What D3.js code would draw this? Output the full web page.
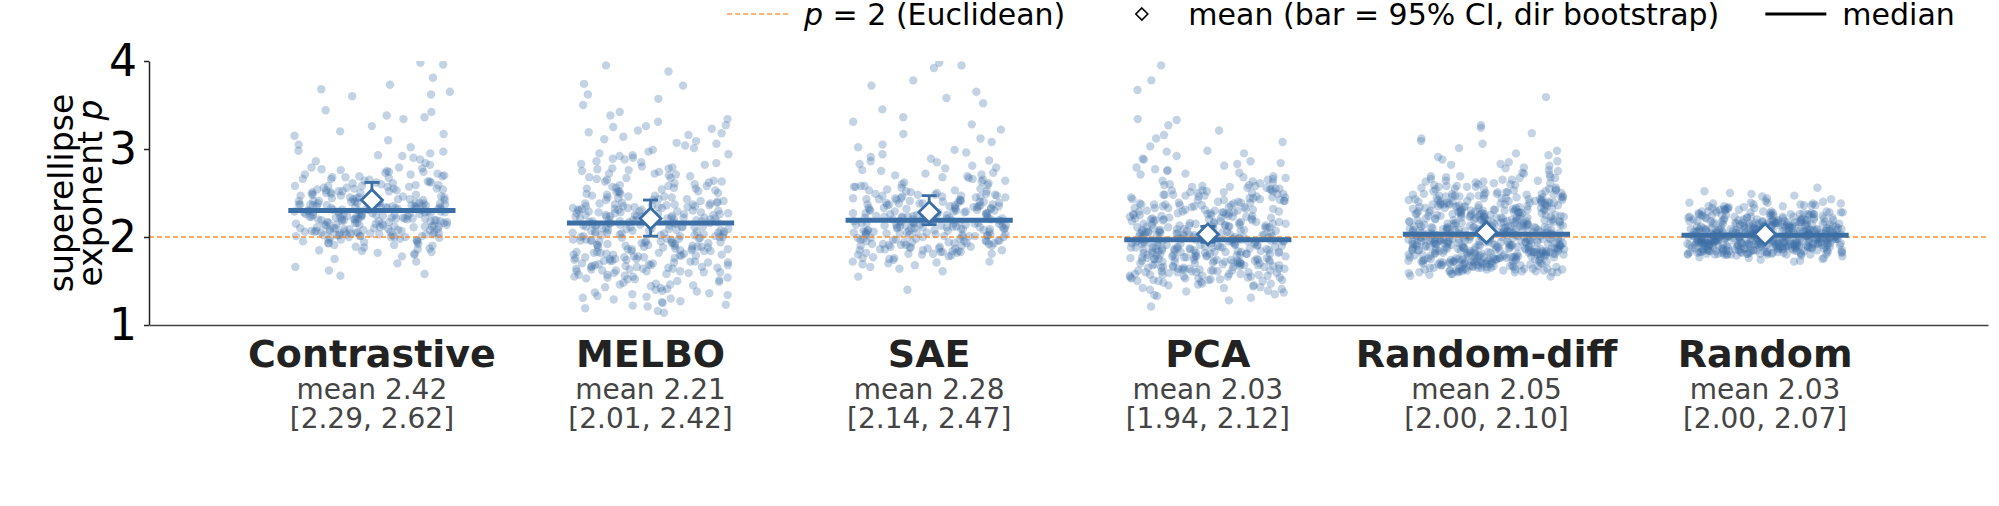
<!DOCTYPE html>
<html><head><meta charset="utf-8">
<script src="https://cdn.jsdelivr.net/npm/d3@7"></script>
<style>body{margin:0;background:#fff}svg{display:block}text{font-family:"DejaVu Sans",sans-serif}</style>
</head><body>
<svg id="c" width="1999" height="506"></svg>
<script>
// ---------- data ----------
const categories = ["Contrastive","MELBO","SAE","PCA","Random-diff","Random"];
const means  = [2.42,2.21,2.28,2.03,2.05,2.03];
const ciLow  = [2.29,2.01,2.14,1.94,2.00,2.00];
const ciHigh = [2.62,2.42,2.47,2.12,2.10,2.07];
const medians = [2.30,2.16,2.19,1.97,2.03,2.02];
const yTicks = [1,2,3,4];
const euclidean = 2;

const valsContrastive = [3.98,3.96,3.81,3.73,3.68,3.65,3.62,3.60,3.44,3.42,3.38,3.36,3.34,3.26,3.20,3.17,3.10,3.02,
2.98,2.97,2.95,2.93,2.90,2.86,2.84,2.82,
2.79,2.78,2.77,2.75,2.74,2.73,2.72,2.71,2.70,2.69,2.68,2.67,2.66,2.65,2.64,2.63,2.62,2.62,2.61,2.60,
2.59,2.58,2.58,2.57,2.56,2.55,2.55,2.54,2.53,2.52,2.52,2.51,2.50,2.49,2.48,2.48,2.47,2.46,2.45,2.45,2.44,2.43,2.43,2.42,2.41,2.41,2.40,2.40,
2.39,2.39,2.38,2.38,2.37,2.37,2.36,2.36,2.35,2.35,2.34,2.34,2.33,2.33,2.32,2.32,2.31,2.31,2.30,2.30,2.29,2.29,2.28,2.28,2.27,2.27,2.26,2.26,2.25,2.25,2.24,2.24,2.23,2.23,2.22,2.22,2.21,2.21,2.20,2.20,2.20,2.21,
2.19,2.19,2.18,2.18,2.17,2.16,2.16,2.15,2.14,2.14,2.13,2.12,2.12,2.11,2.10,2.10,2.09,2.08,2.08,2.07,2.06,2.06,2.05,2.04,2.04,2.03,2.02,2.02,2.01,2.00,2.00,2.01,2.03,2.05,2.07,2.09,
1.99,1.98,1.97,1.96,1.95,1.94,1.93,1.92,1.91,1.90,1.89,1.88,1.87,1.86,1.85,1.84,1.83,1.82,1.81,1.80,
1.78,1.75,1.72,1.70,1.66,1.62,1.58,1.56,
2.00,2.01,2.02,2.03,2.04,2.05,2.06,2.07,2.08,2.09,2.00,2.01,2.02,2.03,2.04,2.05,2.06,2.07,2.08,2.09,
2.10,2.11,2.12,2.13,2.14,2.15,2.16,2.17,2.18,2.19,2.10,2.11,2.12,2.13,2.14,2.15,2.16,2.17,2.18,2.19,
2.20,2.21,2.22,2.23,2.24,2.25,2.26,2.27,2.28,2.29,2.20,2.21,2.22,2.23,2.24,2.25,2.26,2.27,2.28,2.29,
2.30,2.31,2.32,2.33,2.34,2.35,2.36,2.37,2.38,2.39,2.30,2.31,2.32,2.33,2.34,2.35,2.36,2.37,2.38,2.39,
2.40,2.41,2.42,2.43,2.44,2.45,2.46,2.47,2.48,2.49,2.50,2.51,2.52,2.53,2.54,2.55,2.56,2.57,2.58,2.59,
2.61,2.63,2.66,2.68,2.69,2.71,2.74,2.76,2.79,1.91,1.93,1.94,1.96,1.97,1.99,3.15,3.05,2.88,2.92];

const valsMELBO = [1.14,1.16,1.19,1.21,1.23,1.25,1.27,1.29,1.30,1.32,1.33,1.35,1.36,1.38,1.39,
1.40,1.41,1.42,1.44,1.45,1.46,1.47,1.48,1.49,1.50,1.51,1.52,1.53,1.54,1.55,1.56,1.57,1.58,1.59,1.55,
1.60,1.61,1.62,1.63,1.64,1.65,1.66,1.67,1.68,1.69,1.61,1.64,1.66,1.68,
1.70,1.71,1.72,1.73,1.74,1.75,1.76,1.77,1.78,1.79,1.71,1.73,1.75,1.77,1.79,
1.80,1.81,1.82,1.83,1.84,1.85,1.86,1.87,1.88,1.89,1.80,1.82,1.84,1.86,1.88,1.89,
1.90,1.91,1.92,1.93,1.94,1.95,1.96,1.97,1.98,1.99,1.90,1.91,1.93,1.94,1.95,1.96,1.97,1.98,
2.00,2.01,2.02,2.03,2.04,2.05,2.06,2.07,2.08,2.09,2.00,2.01,2.02,2.03,2.04,2.05,2.06,2.07,2.08,2.09,
2.10,2.11,2.12,2.13,2.14,2.15,2.16,2.17,2.18,2.19,2.10,2.11,2.12,2.13,2.14,2.15,2.16,2.17,2.18,2.19,2.15,
2.20,2.21,2.22,2.23,2.24,2.25,2.26,2.27,2.28,2.29,2.20,2.21,2.22,2.23,2.24,2.25,2.26,2.27,2.28,2.29,2.25,
2.30,2.31,2.32,2.33,2.34,2.35,2.36,2.37,2.38,2.39,2.30,2.31,2.33,2.34,2.35,2.36,2.37,2.38,
2.40,2.41,2.42,2.43,2.44,2.45,2.46,2.47,2.48,2.49,2.41,2.43,2.45,2.47,2.49,
2.50,2.51,2.52,2.53,2.54,2.55,2.56,2.57,2.58,2.59,2.52,2.56,
2.60,2.61,2.62,2.63,2.64,2.65,2.66,2.67,2.68,2.69,
2.70,2.71,2.72,2.74,2.75,2.76,2.77,2.78,2.79,2.80,2.82,2.83,2.85,2.86,2.88,2.89,
2.90,2.92,2.94,2.95,2.97,2.99,3.01,3.04,3.07,3.09,3.11,3.14,3.16,3.19,3.21,3.23,3.25,3.27,
3.31,3.34,3.38,3.42,3.50,3.57,3.62,3.72,3.74,3.88,3.95,
1.22,1.26,1.31,1.34,1.37,1.43,1.46,1.52,1.54,1.57,1.59,
1.60,1.61,1.62,1.63,1.64,1.65,1.66,1.67,1.68,1.69,1.70,1.71,1.72,1.73,1.74,1.75,1.76,1.77,1.78,1.79,
1.80,1.81,1.82,1.83,1.84,1.85,1.86,1.87,1.88,1.89,1.90,1.91,1.92,1.93,1.94,1.95,1.96,1.97,1.98,1.99,
2.00,2.01,2.02,2.03,2.04,2.05,2.06,2.07,2.08,2.09,2.10,2.11,2.12,2.13,2.14,2.15,2.16,2.17,2.18,2.19,
2.20,2.21,2.22,2.23,2.24,2.25,2.26,2.27,2.28,2.29,2.30,2.31,2.32,2.33,2.34,2.35,2.36,2.37,2.38,2.39,
2.42,2.46,2.51,2.55,2.58,2.63,2.67,2.72,2.78,2.84,2.93,3.06,3.18,3.26];

const valsSAE = [1.40,1.55,1.61,1.64,1.66,1.68,1.69,1.70,1.71,1.72,1.74,1.75,1.76,1.77,1.78,1.79,
1.80,1.81,1.82,1.83,1.84,1.85,1.86,1.87,1.88,1.89,1.81,1.83,1.85,1.87,1.89,
1.90,1.91,1.92,1.93,1.94,1.95,1.96,1.97,1.98,1.99,1.90,1.91,1.92,1.93,1.94,1.95,1.96,1.97,1.98,
2.00,2.01,2.02,2.03,2.04,2.05,2.06,2.07,2.08,2.09,2.00,2.01,2.02,2.03,2.04,2.05,2.06,2.07,2.08,2.09,2.01,2.03,2.05,2.07,2.09,
2.10,2.11,2.12,2.13,2.14,2.15,2.16,2.17,2.18,2.19,2.10,2.11,2.12,2.13,2.14,2.15,2.16,2.17,2.18,2.19,2.10,2.11,2.12,2.13,2.14,2.15,2.16,2.17,2.18,2.19,
2.20,2.21,2.22,2.23,2.24,2.25,2.26,2.27,2.28,2.29,2.20,2.21,2.22,2.23,2.24,2.25,2.26,2.27,2.28,2.29,2.22,2.27,
2.30,2.31,2.32,2.33,2.34,2.35,2.36,2.37,2.38,2.39,2.30,2.31,2.32,2.33,2.34,2.35,2.36,2.37,2.38,2.39,
2.40,2.41,2.42,2.43,2.44,2.45,2.46,2.47,2.48,2.49,2.40,2.42,2.44,2.46,2.47,2.48,
2.50,2.51,2.52,2.53,2.54,2.55,2.56,2.57,2.58,2.59,2.53,2.57,
2.60,2.61,2.62,2.64,2.65,2.66,2.67,2.68,2.69,2.70,2.72,2.73,2.75,2.76,2.78,2.79,
2.81,2.83,2.85,2.87,2.89,2.91,2.94,2.96,2.99,3.02,3.05,3.08,3.12,3.17,3.22,3.28,3.31,3.36,
3.45,3.52,3.58,3.65,3.72,3.78,3.92,3.95,3.98,
1.80,1.81,1.82,1.83,1.84,1.85,1.86,1.87,1.88,1.89,1.90,1.91,1.92,1.93,1.94,1.95,1.96,1.97,1.98,1.99,
2.00,2.01,2.02,2.03,2.04,2.05,2.06,2.07,2.08,2.09,2.10,2.11,2.12,2.13,2.14,2.15,2.16,2.17,2.18,2.19,
2.20,2.21,2.22,2.23,2.24,2.25,2.26,2.27,2.28,2.29,2.30,2.31,2.32,2.33,2.34,2.35,2.36,2.37,2.38,2.39,
2.40,2.41,2.42,2.43,2.44,2.45,2.46,2.47,2.48,2.49,2.52,2.58,2.63,2.71,2.86,1.72,1.76];

const valsPCA = [1.21,1.28,1.31,1.33,1.35,1.37,1.39,1.40,1.41,1.42,1.43,1.44,1.45,1.46,1.47,1.48,1.49,
1.50,1.51,1.52,1.53,1.54,1.55,1.56,1.57,1.58,1.59,1.50,1.51,1.53,1.54,1.55,1.56,1.57,1.58,
1.60,1.61,1.62,1.63,1.64,1.65,1.66,1.67,1.68,1.69,1.60,1.61,1.62,1.63,1.64,1.65,1.66,1.67,1.68,1.69,1.60,1.62,1.64,1.66,1.68,
1.70,1.71,1.72,1.73,1.74,1.75,1.76,1.77,1.78,1.79,1.70,1.71,1.72,1.73,1.74,1.75,1.76,1.77,1.78,1.79,1.70,1.71,1.72,1.73,1.74,1.75,1.76,1.77,1.78,1.79,
1.80,1.81,1.82,1.83,1.84,1.85,1.86,1.87,1.88,1.89,1.80,1.81,1.82,1.83,1.84,1.85,1.86,1.87,1.88,1.89,1.80,1.81,1.82,1.83,1.84,1.85,1.86,1.87,1.88,1.89,1.82,1.87,
1.90,1.91,1.92,1.93,1.94,1.95,1.96,1.97,1.98,1.99,1.90,1.91,1.92,1.93,1.94,1.95,1.96,1.97,1.98,1.99,1.90,1.91,1.92,1.93,1.94,1.95,1.96,1.97,1.98,1.99,1.95,
2.00,2.01,2.02,2.03,2.04,2.05,2.06,2.07,2.08,2.09,2.00,2.01,2.02,2.03,2.04,2.05,2.06,2.07,2.08,2.09,2.00,2.01,2.02,2.03,2.05,2.06,2.07,2.09,
2.10,2.11,2.12,2.13,2.14,2.15,2.16,2.17,2.18,2.19,2.10,2.11,2.12,2.13,2.14,2.15,2.16,2.17,2.18,2.19,2.11,2.13,2.15,2.17,
2.20,2.21,2.22,2.23,2.24,2.25,2.26,2.27,2.28,2.29,2.20,2.21,2.22,2.23,2.24,2.25,2.26,2.27,2.28,2.29,
2.30,2.31,2.32,2.33,2.34,2.35,2.36,2.37,2.38,2.39,2.30,2.31,2.33,2.34,2.36,2.37,2.39,
2.40,2.41,2.42,2.43,2.44,2.45,2.46,2.47,2.48,2.49,2.42,2.45,2.48,
2.50,2.51,2.52,2.53,2.54,2.55,2.56,2.57,2.58,2.59,2.60,2.62,2.63,2.65,2.66,2.68,2.69,
2.71,2.73,2.75,2.77,2.79,2.81,2.84,2.86,2.89,2.92,2.95,2.98,3.03,3.08,3.12,3.16,3.21,3.27,3.33,3.34,
3.67,3.78,3.95,
1.50,1.51,1.52,1.53,1.54,1.55,1.56,1.57,1.58,1.59,1.60,1.61,1.62,1.63,1.64,1.65,1.66,1.67,1.68,1.69,
1.70,1.71,1.72,1.73,1.74,1.75,1.76,1.77,1.78,1.79,1.80,1.81,1.82,1.83,1.84,1.85,1.86,1.87,1.88,1.89,
1.90,1.91,1.92,1.93,1.94,1.95,1.96,1.97,1.98,1.99,2.00,2.01,2.02,2.03,2.04,2.05,2.06,2.07,2.08,2.09,
2.10,2.11,2.12,2.13,2.14,2.15,2.16,2.17,2.18,2.19,2.20,2.21,2.22,2.23,2.24,2.25,2.26,2.27,2.28,2.29,
2.30,2.31,2.32,2.33,2.34,2.35,2.36,2.37,2.38,2.39,2.40,2.41,2.42,2.43,2.44,2.45,2.46,2.47,2.48,2.49,
1.42,1.45,1.47,1.38,1.34,2.50,2.51,2.52,2.53,2.54,2.55,2.56,2.57,2.58,2.59,
2.61,2.64,2.67,2.72,2.76,2.83,2.88,2.97,1.62,1.74,1.83,1.88,1.95,2.05,2.12];

const valsRandomDiff = [1.55,1.57,1.58,1.59,
1.60,1.61,1.62,1.63,1.64,1.65,1.66,1.67,1.68,1.69,1.60,1.61,1.62,1.63,1.64,1.65,1.66,1.67,1.68,1.69,1.60,1.61,1.62,1.63,1.64,1.65,1.66,1.67,1.68,1.69,
1.70,1.71,1.72,1.73,1.74,1.75,1.76,1.77,1.78,1.79,1.70,1.71,1.72,1.73,1.74,1.75,1.76,1.77,1.78,1.79,1.70,1.71,1.72,1.73,1.74,1.75,1.76,1.77,1.78,1.79,1.70,1.71,1.72,1.73,1.74,1.75,1.76,1.77,1.78,1.79,1.70,1.71,1.72,1.73,1.75,1.76,
1.80,1.81,1.82,1.83,1.84,1.85,1.86,1.87,1.88,1.89,1.80,1.81,1.82,1.83,1.84,1.85,1.86,1.87,1.88,1.89,1.80,1.81,1.82,1.83,1.84,1.85,1.86,1.87,1.88,1.89,1.80,1.81,1.82,1.83,1.84,1.85,1.86,1.87,1.88,1.89,1.80,1.81,1.82,1.83,1.84,1.85,1.86,1.87,1.88,1.89,1.82,1.87,
1.90,1.91,1.92,1.93,1.94,1.95,1.96,1.97,1.98,1.99,1.90,1.91,1.92,1.93,1.94,1.95,1.96,1.97,1.98,1.99,1.90,1.91,1.92,1.93,1.94,1.95,1.96,1.97,1.98,1.99,1.90,1.91,1.92,1.93,1.94,1.95,1.96,1.97,1.98,1.99,1.90,1.91,1.92,1.93,1.94,1.95,1.96,1.97,1.98,1.99,1.93,1.97,
2.00,2.01,2.02,2.03,2.04,2.05,2.06,2.07,2.08,2.09,2.00,2.01,2.02,2.03,2.04,2.05,2.06,2.07,2.08,2.09,2.00,2.01,2.02,2.03,2.04,2.05,2.06,2.07,2.08,2.09,2.00,2.01,2.02,2.03,2.04,2.05,2.06,2.07,2.08,2.09,2.01,2.03,2.05,2.08,
2.10,2.11,2.12,2.13,2.14,2.15,2.16,2.17,2.18,2.19,2.10,2.11,2.12,2.13,2.14,2.15,2.16,2.17,2.18,2.19,2.10,2.11,2.12,2.13,2.14,2.15,2.16,2.17,2.18,2.19,2.10,2.11,2.12,2.13,2.14,2.15,2.17,2.19,
2.20,2.21,2.22,2.23,2.24,2.25,2.26,2.27,2.28,2.29,2.20,2.21,2.22,2.23,2.24,2.25,2.26,2.27,2.28,2.29,2.20,2.21,2.22,2.23,2.24,2.25,2.26,2.27,2.28,2.29,2.21,2.24,
2.30,2.31,2.32,2.33,2.34,2.35,2.36,2.37,2.38,2.39,2.30,2.31,2.32,2.33,2.34,2.35,2.36,2.37,2.38,2.39,2.30,2.31,2.33,2.35,2.37,2.39,
2.40,2.41,2.42,2.43,2.44,2.45,2.46,2.47,2.48,2.49,2.40,2.41,2.42,2.44,2.45,2.46,2.47,2.48,2.49,
2.50,2.51,2.52,2.53,2.54,2.55,2.56,2.57,2.58,2.59,2.51,2.54,2.57,
2.60,2.61,2.63,2.64,2.65,2.67,2.68,2.69,2.71,2.73,2.76,2.78,2.79,2.81,2.83,2.85,2.88,2.91,2.95,2.98,
3.01,3.06,3.09,3.12,3.18,3.24,3.27,3.59,
1.60,1.61,1.62,1.63,1.64,1.65,1.66,1.67,1.68,1.69,1.70,1.71,1.72,1.73,1.74,1.75,1.76,1.77,1.78,1.79,
1.80,1.81,1.82,1.83,1.84,1.85,1.86,1.87,1.88,1.89,1.90,1.91,1.92,1.93,1.94,1.95,1.96,1.97,1.98,1.99,
2.00,2.01,2.02,2.03,2.04,2.05,2.06,2.07,2.08,2.09,2.10,2.11,2.12,2.13,2.14,2.15,2.16,2.17,2.18,2.19,
2.20,2.21,2.22,2.23,2.24,2.25,2.26,2.27,2.28,2.29,2.30,2.31,2.32,2.33,2.34,2.35,2.36,2.37,2.38,2.39,
2.40,2.41,2.42,2.43,2.44,2.45,2.46,2.47,2.48,2.49,2.50,2.51,2.52,2.53,2.54,2.55,2.56,2.57,2.58,2.59,
1.60,1.61,1.62,1.63,1.64,1.65,1.66,1.67,1.68,1.69,1.70,1.71,1.72,1.73,1.74,1.75,1.76,1.77,1.78,1.79,
1.80,1.81,1.82,1.83,1.84,1.85,1.86,1.87,1.88,1.89,1.90,1.91,1.92,1.93,1.94,1.95,1.96,1.97,1.98,1.99,
2.00,2.01,2.02,2.03,2.04,2.05,2.06,2.07,2.08,2.09,2.10,2.11,2.12,2.13,2.14,2.15,2.16,2.17,2.18,2.19,
2.20,2.21,2.22,2.23,2.24,2.25,2.26,2.27,2.28,2.29,2.30,2.31,2.32,2.33,2.34,2.35,2.36,2.37,2.38,2.39,
2.40,2.41,2.42,2.43,2.44,2.45,2.46,2.47,2.48,2.49,2.60,2.61,2.62,2.63,2.64,2.65,2.66,2.67,2.68,2.69,
2.72,2.75,2.82,2.86,2.93,1.56,1.58];

const valsRandom = [1.72,1.73,1.74,1.75,1.76,1.76,1.77,1.78,1.79,1.79,
1.80,1.81,1.82,1.83,1.84,1.85,1.86,1.87,1.88,1.89,1.80,1.81,1.82,1.83,1.84,1.85,1.86,1.87,1.88,1.89,1.80,1.81,1.82,1.83,1.84,1.85,1.86,1.87,1.88,1.89,1.80,1.81,1.82,1.83,1.84,1.85,1.86,1.87,1.88,1.89,1.80,1.81,1.82,1.83,1.84,1.85,1.86,1.87,1.88,1.89,1.85,1.89,
1.90,1.91,1.92,1.93,1.94,1.95,1.96,1.97,1.98,1.99,1.90,1.91,1.92,1.93,1.94,1.95,1.96,1.97,1.98,1.99,1.90,1.91,1.92,1.93,1.94,1.95,1.96,1.97,1.98,1.99,1.90,1.91,1.92,1.93,1.94,1.95,1.96,1.97,1.98,1.99,
1.90,1.91,1.92,1.93,1.94,1.95,1.96,1.97,1.98,1.99,1.90,1.91,1.92,1.93,1.94,1.95,1.96,1.97,1.98,1.99,1.90,1.91,1.92,1.93,1.94,1.95,1.96,1.97,1.98,1.99,1.90,1.91,1.92,1.93,1.94,1.95,1.96,1.97,1.98,1.99,
2.00,2.01,2.02,2.03,2.04,2.05,2.06,2.07,2.08,2.09,2.00,2.01,2.02,2.03,2.04,2.05,2.06,2.07,2.08,2.09,2.00,2.01,2.02,2.03,2.04,2.05,2.06,2.07,2.08,2.09,2.00,2.01,2.02,2.03,2.04,2.05,2.06,2.07,2.08,2.09,
2.00,2.01,2.02,2.03,2.04,2.05,2.06,2.07,2.08,2.09,2.00,2.01,2.02,2.03,2.04,2.05,2.06,2.07,2.08,2.09,2.00,2.01,2.02,2.03,2.04,2.05,2.06,2.07,2.08,2.09,2.01,2.02,
2.10,2.11,2.12,2.13,2.14,2.15,2.16,2.17,2.18,2.19,2.10,2.11,2.12,2.13,2.14,2.15,2.16,2.17,2.18,2.19,2.10,2.11,2.12,2.13,2.14,2.15,2.16,2.17,2.18,2.19,2.10,2.11,2.12,2.13,2.14,2.15,2.16,2.17,2.18,2.19,2.10,2.12,2.13,2.14,2.15,2.16,2.17,2.19,
2.20,2.21,2.22,2.23,2.24,2.25,2.26,2.27,2.28,2.29,2.20,2.21,2.22,2.23,2.24,2.25,2.26,2.27,2.28,2.29,2.20,2.21,2.22,2.23,2.24,2.25,2.26,2.27,2.28,2.29,2.22,2.26,
2.30,2.31,2.32,2.33,2.34,2.35,2.36,2.37,2.38,2.39,2.31,2.33,2.35,2.36,2.38,2.39,
2.40,2.41,2.43,2.44,2.46,2.47,2.49,2.50,2.52,2.56,
1.80,1.81,1.82,1.83,1.84,1.85,1.86,1.87,1.88,1.89,1.80,1.81,1.82,1.83,1.84,1.85,1.86,1.87,1.88,1.89,
1.80,1.81,1.82,1.83,1.84,1.85,1.86,1.87,1.88,1.89,1.80,1.81,1.82,1.83,1.84,1.85,1.86,1.87,1.88,1.89,
1.90,1.91,1.92,1.93,1.94,1.95,1.96,1.97,1.98,1.99,1.90,1.91,1.92,1.93,1.94,1.95,1.96,1.97,1.98,1.99,
1.90,1.91,1.92,1.93,1.94,1.95,1.96,1.97,1.98,1.99,1.90,1.91,1.92,1.93,1.94,1.95,1.96,1.97,1.98,1.99,
1.90,1.91,1.92,1.93,1.94,1.95,1.96,1.97,1.98,1.99,
2.00,2.01,2.02,2.03,2.04,2.05,2.06,2.07,2.08,2.09,2.00,2.01,2.02,2.03,2.04,2.05,2.06,2.07,2.08,2.09,
2.00,2.01,2.02,2.03,2.04,2.05,2.06,2.07,2.08,2.09,2.00,2.01,2.02,2.03,2.04,2.05,2.06,2.07,2.08,2.09,
2.00,2.01,2.02,2.03,2.04,2.05,2.06,2.07,2.08,2.09,
2.10,2.11,2.12,2.13,2.14,2.15,2.16,2.17,2.18,2.19,2.10,2.11,2.12,2.13,2.14,2.15,2.16,2.17,2.18,2.19,
2.10,2.11,2.12,2.13,2.14,2.15,2.16,2.17,2.18,2.19,2.20,2.21,2.22,2.23,2.24,2.25,2.26,2.27,2.28,2.29,
2.20,2.21,2.22,2.23,2.24,2.25,2.26,2.27,2.28,2.29,2.30,2.31,2.32,2.33,2.34,2.35,2.36,2.37,2.38,2.39];

const groupValues = [valsContrastive, valsMELBO, valsSAE, valsPCA, valsRandomDiff, valsRandom];

// ---------- layout ----------
const BLUE = "#3a6ea5", ORANGE = "#ff7f0e";
const svg = d3.select("#c");
const x = d3.scaleLinear().domain([-0.8, 5.8]).range([149, 1988]);
const y = d3.scaleLinear().domain([1, 4]).range([325, 61]);
const [x0, x1] = x.range(); const [yb, yt] = y.range();

svg.append("defs").append("clipPath").attr("id", "clip")
  .append("rect").attr("x", x0).attr("y", yt).attr("width", x1 - x0).attr("height", yb - yt);

const plot = svg.append("g").attr("clip-path", "url(#clip)");

// strip points (seeded jitter, as in a strip plot)
const JIT = 0.28;
groupValues.forEach((vals, gi) => {
  const jitter = d3.randomUniform.source(d3.randomLcg(0.123 + gi * 0.171))(-JIT, JIT);
  plot.append("g").selectAll("circle").data(vals).join("circle")
    .attr("cx", () => x(gi + jitter()))
    .attr("cy", d => y(d))
    .attr("r", 4.2)
    .attr("fill", BLUE).attr("fill-opacity", 0.3);
});

// reference line p = 2
plot.append("line")
  .attr("x1", x0).attr("x2", x1).attr("y1", y(euclidean)).attr("y2", y(euclidean))
  .attr("stroke", ORANGE).attr("stroke-opacity", 0.85).attr("stroke-width", 1.7)
  .attr("stroke-dasharray", "5,3");

// medians
plot.append("g").selectAll("line").data(medians).join("line")
  .attr("x1", (d, i) => x(i - 0.3)).attr("x2", (d, i) => x(i + 0.3))
  .attr("y1", d => y(d)).attr("y2", d => y(d))
  .attr("stroke", BLUE).attr("stroke-width", 5);

// CI error bars
const eb = plot.append("g").attr("stroke", BLUE).attr("stroke-width", 2.8);
categories.forEach((c, i) => {
  eb.append("line").attr("x1", x(i)).attr("x2", x(i)).attr("y1", y(ciLow[i])).attr("y2", y(ciHigh[i]));
  [ciLow[i], ciHigh[i]].forEach(v => {
    eb.append("line").attr("x1", x(i) - 7.5).attr("x2", x(i) + 7.5).attr("y1", y(v)).attr("y2", y(v));
  });
});

// mean diamonds
const diamond = r => `M0,${-r}L${r},0L0,${r}L${-r},0Z`;
plot.append("g").selectAll("path").data(means).join("path")
  .attr("d", diamond(10.5))
  .attr("transform", (d, i) => `translate(${x(i)},${y(d)})`)
  .attr("fill", "#fff").attr("stroke", BLUE).attr("stroke-width", 2.8);

// axes
const yAxis = svg.append("g").attr("transform", `translate(${x0},0)`)
  .call(d3.axisLeft(y).tickValues(yTicks).tickFormat(d3.format("d")).tickSize(5).tickSizeOuter(0).tickPadding(7));
yAxis.selectAll("text").attr("font-size", 44).attr("fill", "#000").attr("font-family", "DejaVu Sans");
yAxis.selectAll("line,path").attr("stroke", "#222").attr("stroke-width", 1.5);

const xAxis = svg.append("g").attr("transform", `translate(0,${yb})`)
  .call(d3.axisBottom(x).tickValues([]).tickSizeOuter(0));
xAxis.select("path").attr("stroke", "#444").attr("stroke-width", 1.5);

// category labels
const lab = svg.append("g").attr("text-anchor", "middle");
categories.forEach((c, i) => {
  lab.append("text").attr("x", x(i)).attr("y", 367).attr("font-size", 38).attr("font-weight", "bold").attr("fill", "#222").text(c);
  lab.append("text").attr("x", x(i)).attr("y", 399).attr("font-size", 28).attr("fill", "#444").text(`mean ${means[i].toFixed(2)}`);
  lab.append("text").attr("x", x(i)).attr("y", 428).attr("font-size", 28).attr("fill", "#444").text(`[${ciLow[i].toFixed(2)}, ${ciHigh[i].toFixed(2)}]`);
});

// y label
const ymid = (yt + yb) / 2;
svg.append("text").attr("transform", `translate(73,${ymid}) rotate(-90)`).attr("text-anchor", "middle")
  .attr("font-size", 33).attr("fill", "#000").text("superellipse");
const yl2 = svg.append("text").attr("transform", `translate(102,${ymid}) rotate(-90)`).attr("text-anchor", "middle")
  .attr("font-size", 33).attr("fill", "#000");
yl2.append("tspan").text("exponent ");
yl2.append("tspan").attr("font-style", "italic").text("p");

// legend
const leg = svg.append("g");
const LY = 14, HANDLE = 61, GAP = 16, SEP = 46, FS = 30;
let cx = 727;
function legText(x0, parts) {
  const t = leg.append("text").attr("x", x0).attr("y", LY + 11).attr("font-size", FS).attr("fill", "#000");
  parts.forEach(p => { const s = t.append("tspan").text(p[0]); if (p[1]) s.attr("font-style", "italic"); });
  return t.node().getComputedTextLength();
}
leg.append("line").attr("x1", cx).attr("x2", cx + HANDLE).attr("y1", LY).attr("y2", LY)
  .attr("stroke", ORANGE).attr("stroke-opacity", 0.75).attr("stroke-width", 1.7).attr("stroke-dasharray", "5,3");
cx += HANDLE + GAP;
cx += legText(cx, [["p", true], [" = 2 (Euclidean)"]]) + SEP;
leg.append("path").attr("d", diamond(6)).attr("transform", `translate(${cx + HANDLE / 2},${LY})`)
  .attr("fill", "#fff").attr("stroke", "#000").attr("stroke-width", 1.6);
cx += HANDLE + GAP;
cx += legText(cx, [["mean (bar = 95% CI, dir bootstrap)"]]) + SEP;
leg.append("line").attr("x1", cx).attr("x2", cx + HANDLE).attr("y1", LY).attr("y2", LY)
  .attr("stroke", "#000").attr("stroke-width", 3);
cx += HANDLE + GAP;
legText(cx, [["median"]]);
</script>
</body></html>
